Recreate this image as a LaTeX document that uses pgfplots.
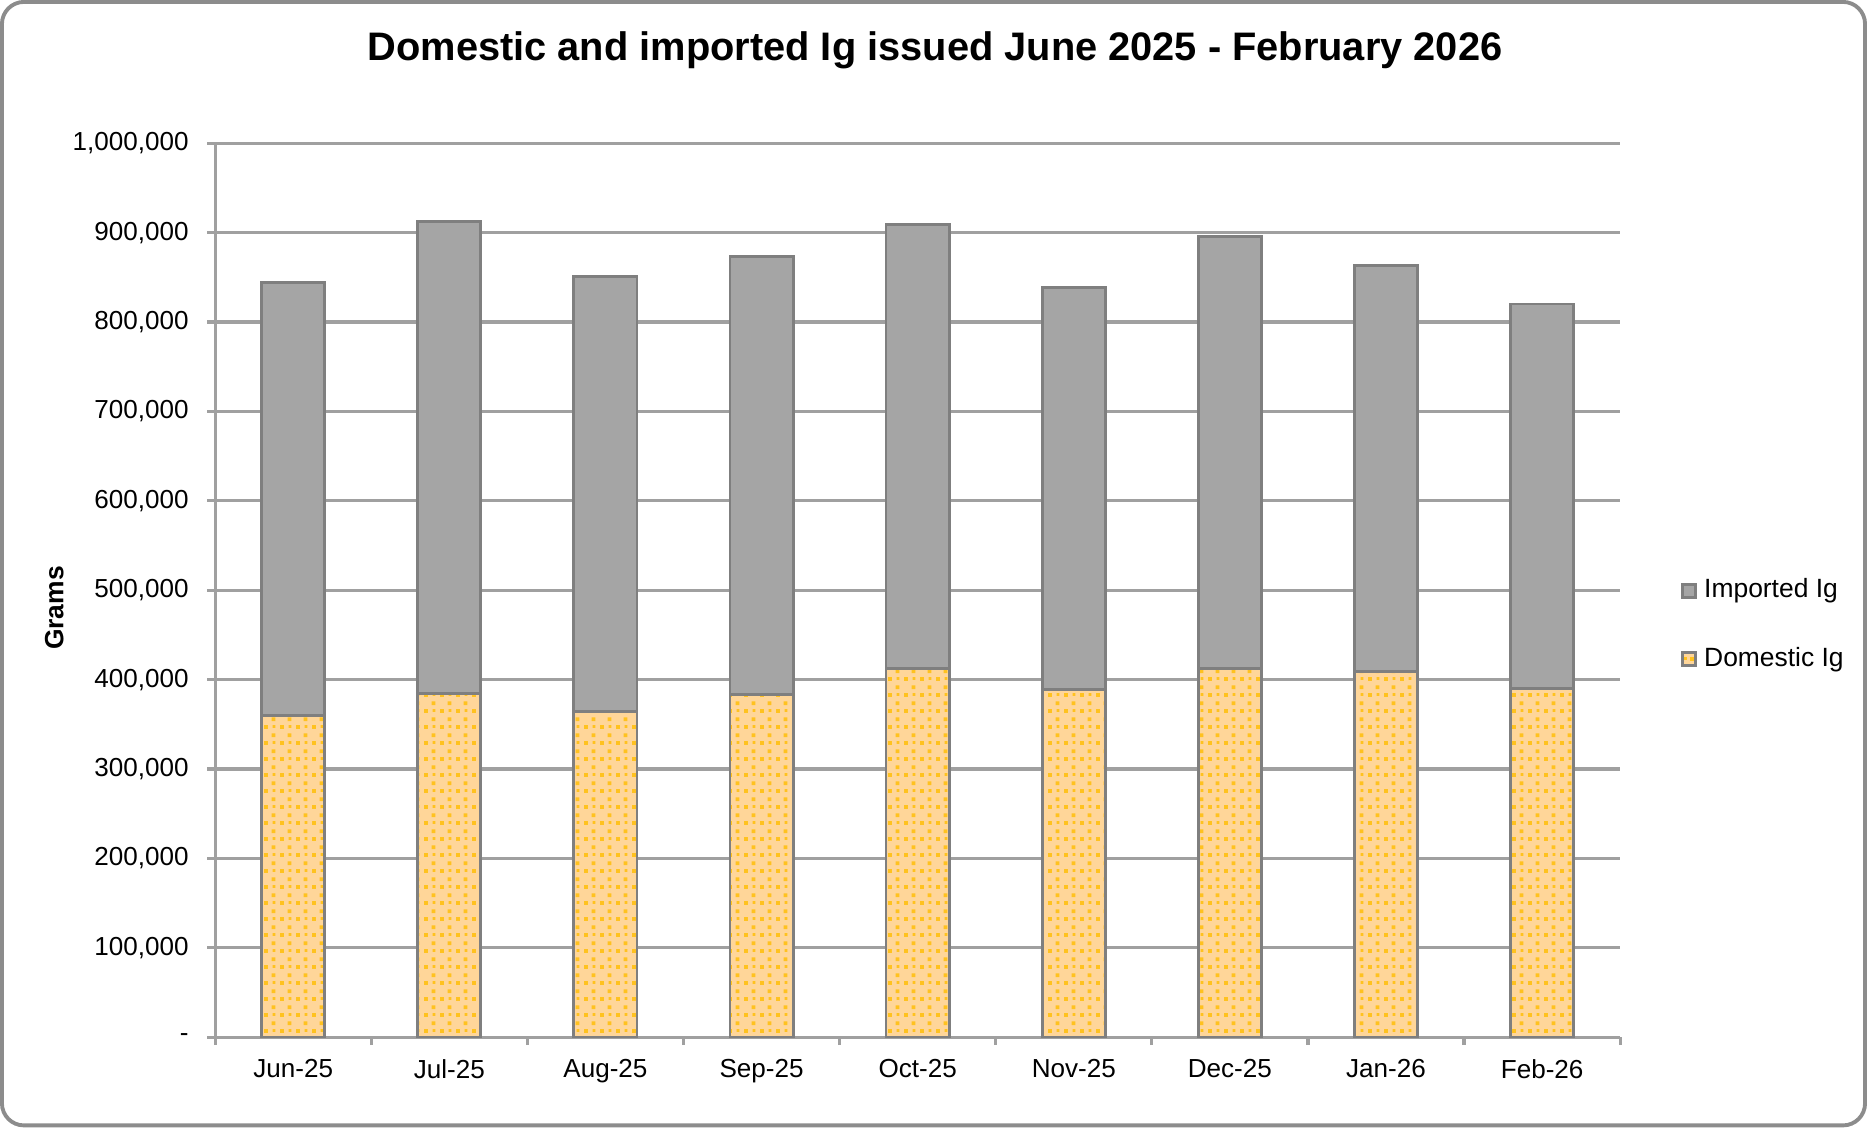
\documentclass[border=0pt]{standalone}
\usepackage{pgfplots}
\pgfplotsset{compat=1.18}
\usepackage{fontspec}
\setmainfont{Liberation Sans}
\usetikzlibrary{patterns,patterns.meta}
\definecolor{impfill}{HTML}{A5A5A5}
\definecolor{edgec}{HTML}{7F7F7F}
\definecolor{domfill}{HTML}{FFD699}
\definecolor{domdot}{HTML}{FFC21F}
\definecolor{gridc}{HTML}{A0A0A0}
\definecolor{framec}{HTML}{8C8C8C}
\tikzdeclarepattern{
  name=sqdots, type=uncolored,
  bottom left={(0pt,0pt)}, top right={(4.4pt,4.4pt)},
  tile size={(4.4pt,4.4pt)},
  code={
    \fill (0.3pt,0.3pt) rectangle (1.4pt,1.4pt);
    \fill (2.5pt,2.6pt) rectangle (3.6pt,3.7pt);
    \fill (2.8pt,0.6pt) rectangle (3.6pt,1.4pt);
  }
}
\begin{document}
\begin{tikzpicture}[x=1cm,y=1cm]
\draw[line width=1.1pt, color=framec, rounded corners=0.22cm] (0.04,0.04) rectangle (18.63,11.25);
\node[font=\bfseries\fontsize{11.3}{14}\selectfont] at (9.35,10.77) {Domestic and imported Ig issued June 2025 - February 2026};
\begin{axis}[
  at={(2.167cm,0.92cm)}, anchor=south west,
  scale only axis, width=14.02cm, height=8.92cm,
  ybar stacked, bar width=0.63cm,
  xmin=-0.5, xmax=8.5, ymin=0, ymax=1000000,
  axis lines=left, axis line style={-, gridc, line width=0.9pt},
  ymajorgrids, grid style={gridc, line width=0.9pt},
  tick style={gridc, line width=0.9pt}, tick align=outside,
  major tick length=0.08cm,
  xtick={-0.5,0.5,...,8.5}, xticklabels={},
  extra x ticks={0,1,2,3,4,5,6,7,8},
  extra x tick labels={Jun-25,Jul-25,Aug-25,Sep-25,Oct-25,Nov-25,Dec-25,Jan-26,Feb-26},
  extra x tick style={major tick length=0pt, grid=none},
  ytick={0,100000,...,1000000},
  yticklabels={{-},{100,000},{200,000},{300,000},{400,000},{500,000},{600,000},{700,000},{800,000},{900,000},{1,000,000}},
  scaled ticks=false,
  ticklabel style={font=\fontsize{7.4}{9}\selectfont, text=black},
  yticklabel style={xshift=-0.06cm},
  xticklabel style={yshift=-0.1cm},
  ylabel={Grams},
  ylabel style={font=\bfseries\fontsize{7.5}{9}\selectfont, at={(axis description cs:-0.099,0.48)}},
  reverse legend,
  legend style={at={(rel axis cs:1.043,0.461)}, anchor=west, draw=none, fill=none,
    font=\fontsize{7.5}{9}\selectfont, row sep=0.3cm, inner sep=0pt},
  legend cell align=left,
  legend image code/.code={\draw[#1] (0cm,-0.065cm) rectangle (0.13cm,0.065cm);},
]
\addplot[fill=domfill, draw=edgec, line width=0.8pt, postaction={pattern=sqdots, pattern color=domdot}]
 coordinates {(0,359500) (1,384800) (2,364800) (3,383500) (4,412800) (5,388800) (6,412800) (7,408800) (8,390100)};
\addlegendentry{Domestic Ig}
\addplot[fill=impfill, draw=edgec, line width=0.8pt]
 coordinates {(0,484700) (1,527300) (2,486100) (3,490000) (4,496700) (5,450100) (6,483300) (7,454100) (8,430100)};
\addlegendentry{Imported Ig}
\end{axis}
\end{tikzpicture}
\end{document}
